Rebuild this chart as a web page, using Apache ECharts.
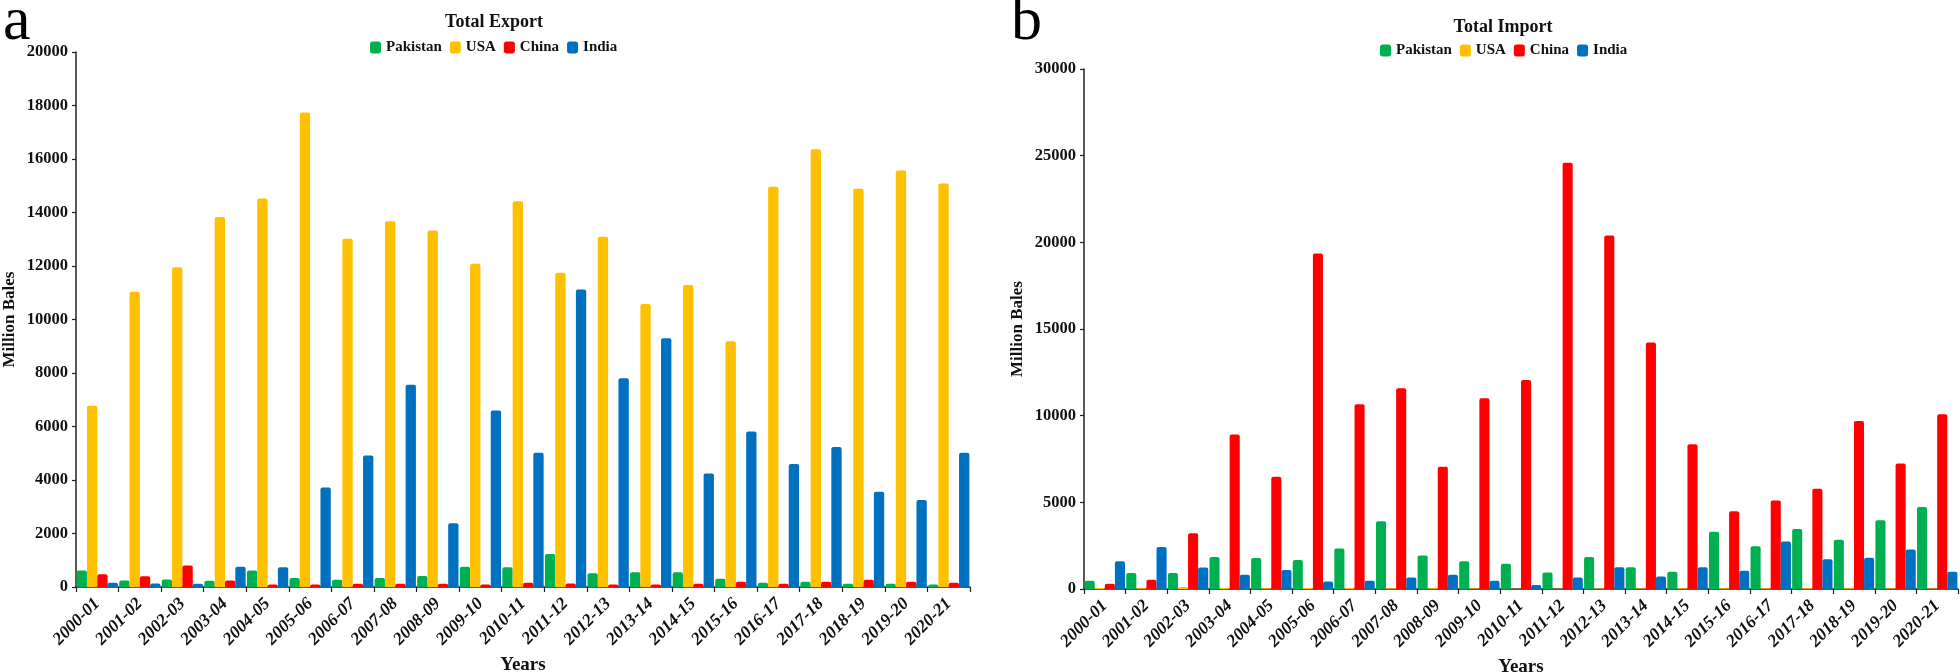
<!DOCTYPE html>
<html>
<head>
<meta charset="utf-8">
<script src="https://cdn.jsdelivr.net/npm/echarts@6/dist/echarts.min.js"></script>
<style>
html,body{margin:0;padding:0;background:#fff;}
#main{width:1960px;height:672px;}
</style>
</head>
<body>
<div id="main"></div>
<script>
const years = ['2000-01','2001-02','2002-03','2003-04','2004-05','2005-06','2006-07','2007-08','2008-09','2009-10','2010-11','2011-12','2012-13','2013-14','2014-15','2015-16','2016-17','2017-18','2018-19','2019-20','2020-21'];
const countries = ['Pakistan','USA','China','India'];
const colors = ['#00B050','#FFC000','#FF0000','#0070C0'];

const exportPakistan = [615,240,280,230,615,335,270,335,415,760,735,1230,510,550,550,310,160,200,120,120,95];
const exportUSA = [6780,11040,11950,13830,14520,17740,13020,13670,13330,12080,14420,11750,13090,10580,11290,9190,14960,16360,14890,15570,15080];
const exportChina = [480,400,800,240,95,95,120,120,120,95,160,135,95,95,120,200,120,200,270,200,160];
const exportIndia = [160,135,120,760,735,3720,4920,7560,2380,6600,5020,11120,7800,9300,4240,5810,4600,5230,3560,3250,5020];

const importPakistan = [470,930,930,1850,1790,1670,2330,3910,1930,1600,1460,950,1850,1260,990,3310,2470,3460,2840,3970,4730];
const importUSA = [60,50,120,60,50,60,60,50,40,30,20,20,30,30,40,40,40,40,40,30,30];
const importChina = [310,540,3210,8910,6480,19360,10660,11580,7060,11010,12060,24590,20390,14220,8350,4490,5100,5780,9690,7240,10080];
const importIndia = [1600,2430,1240,820,1090,430,470,660,820,470,230,660,1260,720,1260,1050,2740,1710,1810,2280,990];

const yTicksExport = {min:0, max:20000, interval:2000};
const yTicksImport = {min:0, max:30000, interval:5000};

const FONT = '"Liberation Serif", "Times New Roman", serif';
const exportData = [exportPakistan, exportUSA, exportChina, exportIndia];
const importData = [importPakistan, importUSA, importChina, importIndia];

function xAxis(gridIndex){
  return {
    type:'category', gridIndex, data: years,
    name:'Years', nameLocation:'middle', nameGap:66,
    nameTextStyle:{fontFamily:FONT, fontWeight:'bold', fontSize:19, color:'#111'},
    axisLine:{lineStyle:{color:'#222', width:1.5}},
    axisTick:{show:true, alignWithLabel:false, length:5, lineStyle:{color:'#222', width:1.2}},
    axisLabel:{rotate:45, interval:0, margin:14, fontFamily:FONT, fontWeight:'bold', fontStyle:'italic', fontSize:17.5, color:'#111'}
  };
}
function yAxis(gridIndex, t, gap){
  return {
    type:'value', gridIndex, min:t.min, max:t.max, interval:t.interval,
    name:'Million Bales', nameLocation:'middle', nameGap:gap,
    nameTextStyle:{fontFamily:FONT, fontWeight:'bold', fontSize:17, color:'#111'},
    axisLine:{show:true, lineStyle:{color:'#222', width:1.5}},
    axisTick:{show:true, length:4, lineStyle:{color:'#222', width:1.2}},
    splitLine:{show:false},
    axisLabel:{margin:8, fontFamily:FONT, fontWeight:'bold', fontSize:16.5, color:'#111', formatter:(v)=>String(v)}
  };
}
const series = [];
countries.forEach((c,i)=>{
  series.push({name:c, type:'bar', xAxisIndex:0, yAxisIndex:0, data:exportData[i],
    barGap:'0%', barCategoryGap:'3%', itemStyle:{color:colors[i], borderRadius:[2,2,0,0]}});
});
countries.forEach((c,i)=>{
  series.push({name:c, type:'bar', xAxisIndex:1, yAxisIndex:1, data:importData[i],
    barGap:'0%', barCategoryGap:'3%', itemStyle:{color:colors[i], borderRadius:[2,2,0,0]}});
});

const legendCommon = {
  data: countries, icon:'roundRect', itemWidth:11, itemHeight:12, itemGap:8,
  textStyle:{fontFamily:FONT, fontWeight:'bold', fontSize:15, color:'#111'}, selectedMode:false
};

const chart = echarts.init(document.getElementById('main'), null, {renderer:'canvas'});
chart.setOption({
  animation:false,
  backgroundColor:'#fff',
  color: colors,
  title:[
    {text:'a', left:-2, top:-13, textStyle:{fontFamily:FONT, fontWeight:'normal', fontSize:62, color:'#000'}},
    {text:'b', left:1006, top:-13, textStyle:{fontFamily:FONT, fontWeight:'normal', fontSize:62, color:'#000'}},
    {text:'Total Export', left:489, top:8, textAlign:'center', textStyle:{fontFamily:FONT, fontWeight:'bold', fontSize:18, color:'#111'}},
    {text:'Total Import', left:1498, top:13, textAlign:'center', textStyle:{fontFamily:FONT, fontWeight:'bold', fontSize:18, color:'#111'}}
  ],
  legend:[
    Object.assign({left:365, top:35}, legendCommon),
    Object.assign({left:1375, top:38}, legendCommon)
  ],
  grid:[
    {left:76, top:52, width:894, height:535, outerBoundsMode:'none', containLabel:false},
    {left:1084, top:69, width:874, height:520, outerBoundsMode:'none', containLabel:false}
  ],
  xAxis:[xAxis(0), xAxis(1)],
  yAxis:[yAxis(0, yTicksExport, 58), yAxis(1, yTicksImport, 58)],
  series
});
</script>
</body>
</html>
